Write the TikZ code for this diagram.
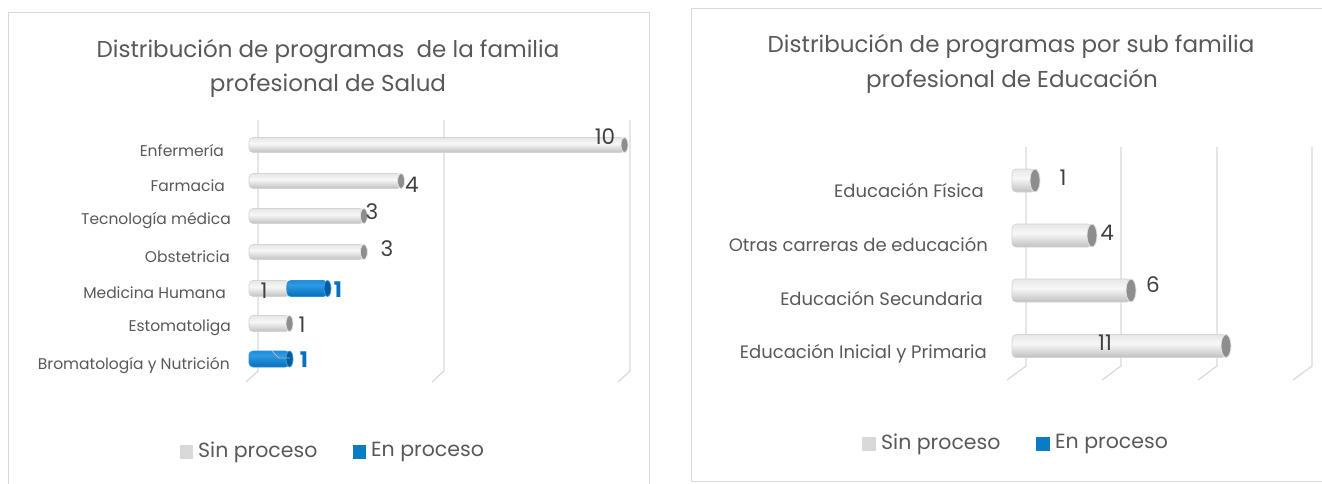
\documentclass[tikz,border=0pt]{standalone}
\usepackage{fontspec}
\setmainfont{Poppins}
\definecolor{frameC}{HTML}{D9D9D9}
\definecolor{gridC}{HTML}{D9D9D9}
\definecolor{txtC}{HTML}{595959}
\definecolor{numC}{HTML}{404040}
\definecolor{blueT}{HTML}{0070C0}
\definecolor{legGray}{HTML}{D9D9D9}
\definecolor{legBlue}{HTML}{0A7CC6}
\definecolor{gA}{HTML}{808080}
\definecolor{gB}{HTML}{B3B3B3}
\definecolor{gC}{HTML}{F7F7F7}
\definecolor{gD}{HTML}{E3E3E3}
\definecolor{gE}{HTML}{BDBDBD}
\definecolor{gR}{HTML}{D4D4D4}
\definecolor{bA}{HTML}{00508C}
\definecolor{bB}{HTML}{0A74C0}
\definecolor{bC}{HTML}{2D9BE6}
\definecolor{bD}{HTML}{0E80D0}
\definecolor{bE}{HTML}{0A6FB8}
\definecolor{bR}{HTML}{2A8FD6}
\definecolor{capG}{HTML}{8E8E8E}
\definecolor{capGr}{HTML}{E3E3E3}
\definecolor{capB}{HTML}{005C9E}
\definecolor{capBr}{HTML}{3AA0E0}
\pgfdeclareverticalshading{cylgray}{100bp}{color(0bp)=(gA); color(18bp)=(gB); color(55bp)=(gC); color(80bp)=(gD); color(100bp)=(gE)}
\pgfdeclareverticalshading{cylblue}{100bp}{color(0bp)=(bA); color(30bp)=(bB); color(62bp)=(bC); color(85bp)=(bD); color(100bp)=(bE)}
% #1 x start, #2 x end, #3 y centre, #4 half height, #5 shading, #6 cap colour, #7 cap rim, #8 cap half width, #9 body rim
\newcommand\cylbar[9]{%
  \shade[shading=#5, rounded corners=4pt, draw=#9, line width=0.6pt] (#1,#3-#4) rectangle (#2-#8,#3+#4);
  \filldraw[fill=#6, draw=#7, line width=0.8pt] (#2-#8,#3) ellipse [x radius=#8, y radius=#4];
}
\tikzset{
  panel/.style={draw=frameC, line width=1pt},
  grid/.style={draw=gridC, line width=1.2pt},
  ttl/.style={text=txtC, font=\fontsize{23}{27}\selectfont, inner sep=0pt},
  catL/.style={text=txtC, font=\fontsize{15.5}{18}\selectfont, anchor=east, inner sep=0pt},
  catR/.style={text=txtC, font=\fontsize{18}{21}\selectfont, anchor=east, inner sep=0pt},
  num/.style={text=numC, font=\fontsize{21.5}{25}\selectfont, inner sep=0pt},
  bnum/.style={text=blueT, font=\bfseries\fontsize{21.5}{25}\selectfont, inner sep=0pt},
  leg/.style={text=txtC, font=\fontsize{20.5}{24}\selectfont, anchor=west, inner sep=0pt},
}
\begin{document}
\begin{tikzpicture}[x=1pt, y=-1pt]
\useasboundingbox (0,0) rectangle (1322,483);
\fill[white] (0,0) rectangle (1322,483);
% panels
\draw[panel] (649,495) -- (649,12) -- (8,12) -- (8,495);
\draw[panel] (1330,8) -- (691,8) -- (691,481) -- (1330,481);

% ---------------- left chart ----------------
\node[ttl] (t1a) at (328,52) {Distribución de programas \ de la familia};
\node[ttl] (t1b) at (328,86) {profesional de Salud};
\foreach \gx in {258,444,630} {
  \draw[grid] (\gx,120) -- (\gx,371) -- (\gx-12,382);
}
\cylbar{249}{628}{145}{7.5}{cylgray}{capG}{capGr}{3.5}{gR}
\cylbar{249}{404.6}{181}{7.5}{cylgray}{capG}{capGr}{3.5}{gR}
\cylbar{249}{367.4}{216}{7.5}{cylgray}{capG}{capGr}{3.5}{gR}
\cylbar{249}{367.4}{252}{7.5}{cylgray}{capG}{capGr}{3.5}{gR}
\cylbar{249}{293}{288.5}{8}{cylgray}{capG}{capGr}{3.5}{gR}
\cylbar{287}{331}{288.5}{8}{cylblue}{capB}{capBr}{3.5}{bR}
\cylbar{249}{293}{323.5}{8}{cylgray}{capG}{capGr}{3.5}{gR}
\cylbar{249}{293}{359}{8}{cylblue}{capB}{capBr}{3.5}{bR}
\draw[gray!60, line width=0.8pt] (272,351) -- (279,358) -- (290,358);

\node[catL] (l1) at (224,151) {Enfermería};
\node[catL] (l2) at (225,186) {Farmacia};
\node[catL] (l3) at (231,221) {Tecnología médica};
\node[catL] (l4) at (230,257) {Obstetricia};
\node[catL] (l5) at (226,293) {Medicina Humana};
\node[catL] (l6) at (231,328) {Estomatoliga};
\node[catL] (l7) at (230,365) {Bromatología y Nutrición};

\node[num] (n1) at (605,137) {10};
\node[num] (n2) at (412,185) {4};
\node[num] (n3) at (372,212) {3};
\node[num] (n4) at (387,249) {3};
\node[num] (n5) at (264,291) {1};
\node[bnum] (n6) at (338,290) {1};
\node[num] (n7) at (302,325) {1};
\node[bnum] (n8) at (304,360) {1};

\fill[legGray] (180,445) rectangle (193,459);
\node[leg] (lg1) at (198,452) {Sin proceso};
\fill[legBlue] (353,445) rectangle (366,459);
\node[leg] (lg2) at (371,452) {En proceso};

% ---------------- right chart ----------------
\node[ttl] (t2a) at (1011,47) {Distribución de programas por sub familia};
\node[ttl] (t2b) at (1012,81) {profesional de Educación};
\foreach \gx in {1026,1121,1217,1312} {
  \draw[grid] (\gx,147) -- (\gx,366) -- (\gx-19,380);
}
\cylbar{1012}{1040}{180.5}{11.5}{cylgray}{capG}{capGr}{5}{gR}
\cylbar{1012}{1097}{235.5}{11.5}{cylgray}{capG}{capGr}{5}{gR}
\cylbar{1012}{1136}{290.5}{11.5}{cylgray}{capG}{capGr}{5}{gR}
\cylbar{1012}{1231}{346}{11.5}{cylgray}{capG}{capGr}{5}{gR}

\node[catR] (r1) at (984,190) {Educación Física};
\node[catR] (r2) at (988,244) {Otras carreras de educación};
\node[catR] (r3) at (983,298) {Educación Secundaria};
\node[catR] (r4) at (987,354) {Educación Inicial y Primaria};

\node[num] (m1) at (1063,178) {1};
\node[num] (m2) at (1107,233) {4};
\node[num] (m3) at (1153,285) {6};
\node[num] (m4) at (1105,343) {11};

\fill[legGray] (862,437) rectangle (876,451);
\node[leg] (lg3) at (881,444) {Sin proceso};
\fill[legBlue] (1036,437) rectangle (1050,451);
\node[leg] (lg4) at (1055,444) {En proceso};
\end{tikzpicture}
\end{document}
